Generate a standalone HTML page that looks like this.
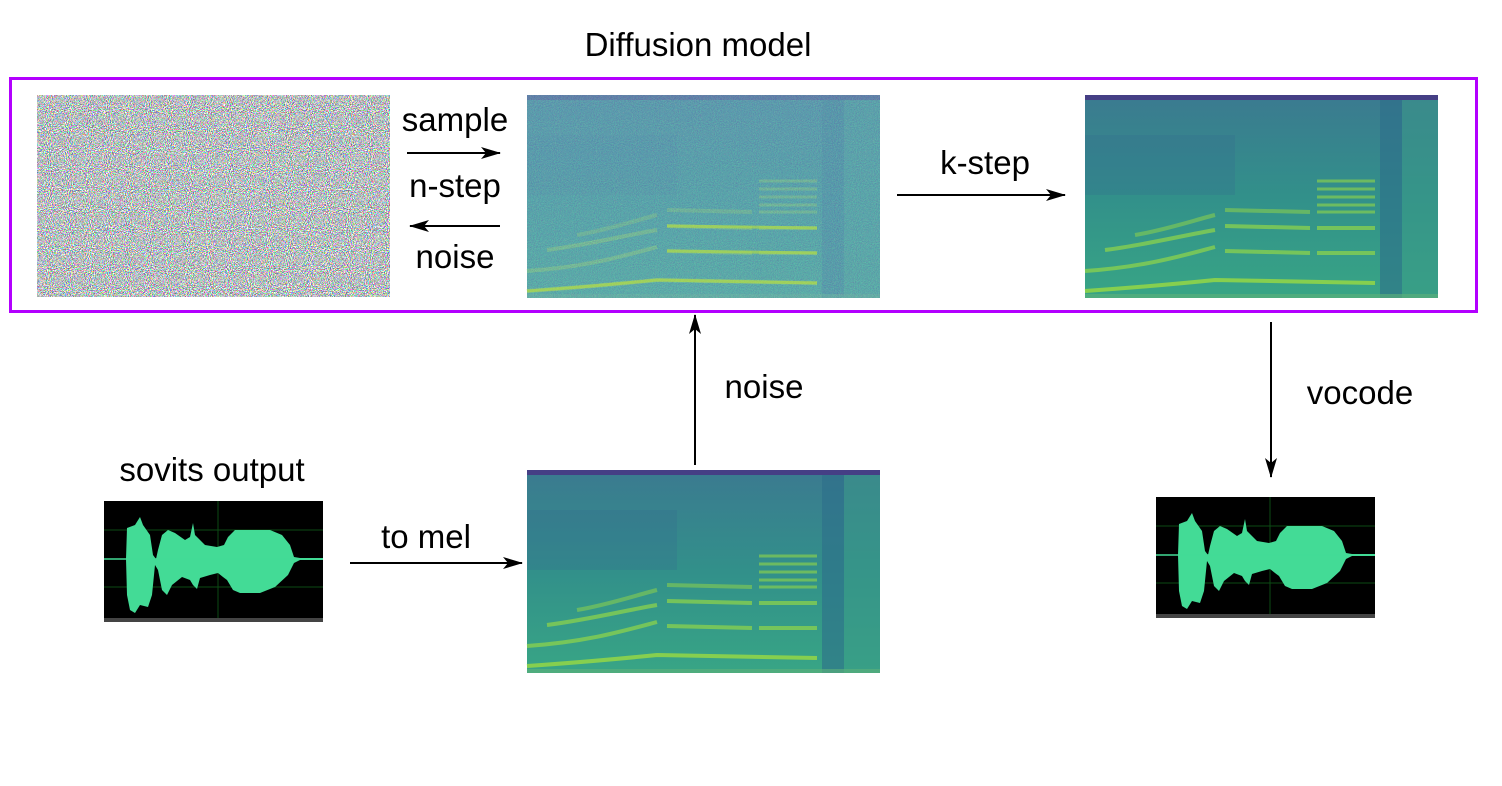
<!DOCTYPE html>
<html><head><meta charset="utf-8"><style>
html,body{margin:0;padding:0;background:#fff;}
svg{display:block;}
text{font-family:"Liberation Sans",sans-serif;font-size:33px;fill:#000;}
</style></head><body>
<svg width="1502" height="786" viewBox="0 0 1502 786" xmlns="http://www.w3.org/2000/svg">
<defs>
<marker id="ah" markerWidth="20" markerHeight="12" refX="19" refY="6" orient="auto" markerUnits="userSpaceOnUse" viewBox="0 0 20 12">
<path d="M0,0 L20,6 L0,12 L5,6 Z" fill="#000"/></marker>
<filter id="rgbnoise" x="0" y="0" width="100%" height="100%">
<feTurbulence type="fractalNoise" baseFrequency="0.95" numOctaves="2" seed="3"/>
<feComponentTransfer><feFuncR type="discrete" tableValues="0.15 1"/><feFuncG type="discrete" tableValues="1 0.2"/><feFuncB type="discrete" tableValues="0.2 1"/><feFuncA type="table" tableValues="1 1"/></feComponentTransfer>
</filter>
<filter id="spnoise" x="0" y="0" width="100%" height="100%">
<feTurbulence type="fractalNoise" baseFrequency="0.95" numOctaves="2" seed="7"/>
<feComponentTransfer><feFuncR type="discrete" tableValues="0.25 0.2 0.15 0.45"/><feFuncG type="discrete" tableValues="0.2 0.35 0.5 0.7"/><feFuncB type="discrete" tableValues="0.5 0.55 0.5 0.45"/><feFuncA type="table" tableValues="0.6 0.6"/></feComponentTransfer>
</filter>
<linearGradient id="sg" x1="0" y1="0" x2="0" y2="1">
<stop offset="0" stop-color="#3b7a90"/><stop offset="0.5" stop-color="#32908a"/><stop offset="1" stop-color="#38a585"/></linearGradient>
<g id="spec">
<rect x="0" y="0" width="353" height="203" fill="url(#sg)"/>
<rect x="0" y="0" width="353" height="5" fill="#453f85"/>
<rect x="295" y="5" width="22" height="198" fill="#2d6e8a" opacity="0.6"/>
<rect x="317" y="5" width="36" height="198" fill="#3a9a88" opacity="0.5"/>
<rect x="0" y="40" width="150" height="60" fill="#34688f" opacity="0.25"/>
<g stroke="#8fd44a" stroke-width="4" fill="none" opacity="0.9">
<path d="M0,196 C60,192 100,188 130,185 L290,188"/>
<path d="M0,176 C60,172 100,160 130,152 M140,156 L225,158 M232,158 L290,158" opacity="0.8"/>
<path d="M20,155 C60,150 100,140 130,135 M140,131 L225,133 M232,133 L290,133" opacity="0.8"/>
<path d="M50,140 C80,135 110,125 130,120 M140,115 L225,117" opacity="0.6"/>
<path d="M232,117 L290,117 M232,110 L290,110 M232,102 L290,102 M232,94 L290,94 M232,86 L290,86" opacity="0.7" stroke-width="3"/>
</g>
<rect x="0" y="199" width="353" height="4" fill="#5fb37a" opacity="0.6"/>
</g>
<g id="wave">
<rect x="0" y="0" width="219" height="121" fill="#000"/>
<rect x="0" y="117" width="219" height="4" fill="#444"/>
<g stroke="#0c4a14" stroke-width="1"><line x1="0" y1="29" x2="219" y2="29"/><line x1="0" y1="86" x2="219" y2="86"/><line x1="114" y1="0" x2="114" y2="117"/></g>
<g transform="translate(-4,-6)">
<polygon fill="#43db96" points="26,64 27,33 35,30 40,22 43,30 50,40 53,60 56,64 58,55 62,40 68,35 75,38 85,45 90,42 93,28 95,40 105,50 117,52 124,50 128,42 135,35 150,35 170,35 182,40 190,50 194,62 200,63 223,63 223,65 200,65 194,68 188,80 175,92 160,98 140,98 133,95 127,85 123,82 118,78 110,80 100,83 97,94 93,90 90,85 82,82 72,90 67,100 62,95 58,75 55,70 52,100 48,112 40,110 35,118 30,115 27,100"/>
<line x1="4" y1="64" x2="223" y2="64" stroke="#43db96" stroke-width="1.5"/>
</g>
</g>
</defs>

<text x="698" y="56" text-anchor="middle">Diffusion model</text>
<rect x="10.5" y="78.5" width="1466" height="233" fill="none" stroke="#b300ff" stroke-width="3"/>

<rect x="37" y="95" width="353" height="202" filter="url(#rgbnoise)"/>

<g transform="translate(527,95)"><use href="#spec"/><rect width="353" height="203" filter="url(#spnoise)"/>
<g stroke="#b8e03a" stroke-width="3" fill="none" opacity="0.6"><path d="M0,196 C60,192 100,188 130,185 L290,188"/><path d="M140,156 L290,158 M140,131 L290,133"/></g></g>
<g transform="translate(1085,95)"><use href="#spec"/></g>
<g transform="translate(527,470)"><use href="#spec"/></g>

<g transform="translate(104,501)"><use href="#wave"/></g>
<g transform="translate(1156,497)"><use href="#wave"/></g>

<g stroke="#000" stroke-width="2" fill="none">
<line x1="407" y1="153" x2="500" y2="153" marker-end="url(#ah)"/>
<line x1="500" y1="226" x2="410" y2="226" marker-end="url(#ah)"/>
<line x1="897" y1="195" x2="1065" y2="195" marker-end="url(#ah)"/>
<line x1="695" y1="465" x2="695" y2="315" marker-end="url(#ah)"/>
<line x1="1271" y1="322" x2="1271" y2="477" marker-end="url(#ah)"/>
<line x1="350" y1="563" x2="522" y2="563" marker-end="url(#ah)"/>
</g>

<text x="455" y="131" text-anchor="middle">sample</text>
<text x="455" y="197" text-anchor="middle">n-step</text>
<text x="455" y="268" text-anchor="middle">noise</text>
<text x="985" y="174" text-anchor="middle">k-step</text>
<text x="764" y="398" text-anchor="middle">noise</text>
<text x="1360" y="404" text-anchor="middle">vocode</text>
<text x="426" y="548" text-anchor="middle">to mel</text>
<text x="212" y="481" text-anchor="middle">sovits output</text>
</svg>
</body></html>
